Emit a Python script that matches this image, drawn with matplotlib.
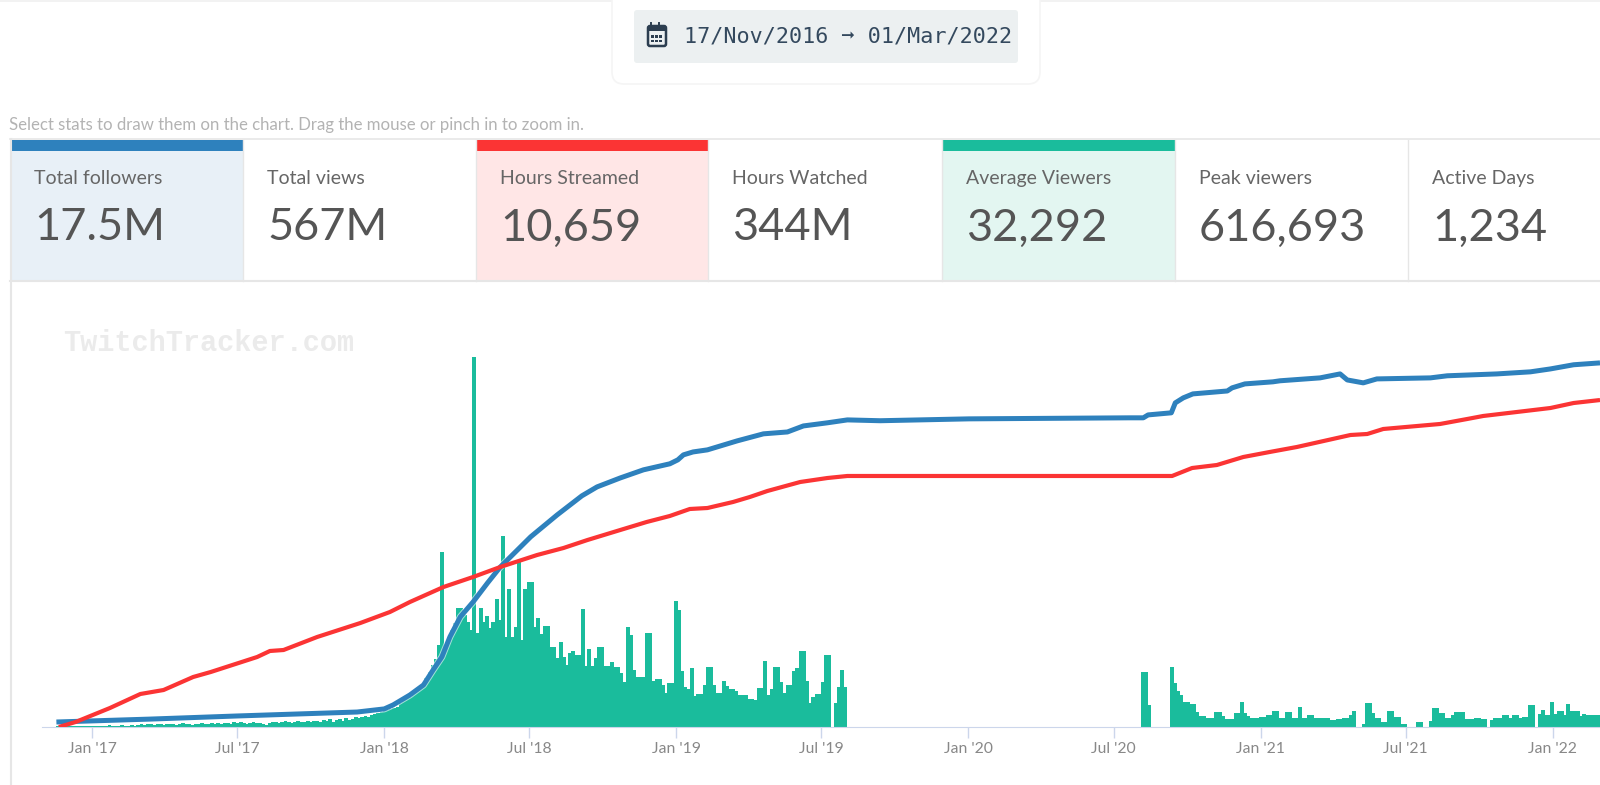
import pandas as pd
import matplotlib
matplotlib.use("Agg")
import matplotlib.pyplot as plt
import matplotlib.patheffects as pe
from matplotlib.patches import Rectangle, FancyBboxPatch

# stat cards
card_labels = ["Total followers", "Total views", "Hours Streamed", "Hours Watched",
               "Average Viewers", "Peak viewers", "Active Days"]
card_values = ["17.5M", "567M", "10,659", "344M", "32,292", "616,693", "1,234"]
date_range = "17/Nov/2016 \u279e 01/Mar/2022"
hint_text = "Select stats to draw them on the chart. Drag the mouse or pinch in to zoom in."

# average viewers (thousands), one bar every 4 days per block
viewers_a_start = "2016-11-17"
viewers_a = [1, 1, 1, 1, 1, 1, 1, 1, 1, 1, 1, 1, 1, 1, 1, 1, 2, 1, 1, 1, 2, 1, 1, 2, 1,
             2, 3, 2, 3, 3, 2, 3, 3, 2, 3, 3, 3, 2, 3, 4, 3, 3, 2, 3, 3, 4, 3, 3, 4, 3,
             4, 3, 4, 4, 3, 5, 4, 5, 4, 3, 4, 5, 4, 4, 3, 2, 4, 5, 5, 4, 5, 6, 5, 4, 5,
             6, 5, 5, 6, 5, 6, 6, 5, 7, 6, 8, 5, 7, 8, 6, 9, 7, 8, 10, 9, 10, 11, 10, 12, 13, 14]
viewers_b_start = "2017-12-26"
viewers_b = [15, 16, 17, 18, 19, 20, 24, 27, 28, 30, 34, 36, 38, 42, 49, 55, 62, 68, 82, 175,
             82, 90, 97, 104, 119, 119, 112, 105, 97, 370, 94, 119, 105, 111, 99, 105, 128, 107, 191, 90,
             138, 90, 100, 167, 87, 138, 145, 145, 100, 109, 93, 101, 101, 80, 80, 69, 85, 70, 62, 74,
             76, 72, 72, 118, 61, 78, 61, 69, 80, 80, 61, 61, 65, 60, 60, 54, 45, 100, 92, 57,
             50, 50, 50, 94, 94, 46, 48, 48, 42, 34, 44, 44, 126, 117, 56, 40, 38, 59, 31, 33,
             33, 42, 60, 60, 42, 34, 34, 46, 41, 38, 38, 36, 32, 32, 32, 28, 28, 27, 39, 39,
             66, 32, 38, 60, 60, 45, 34, 42, 42, 56, 59, 76, 76, 46, 24, 30, 33, 33, 45, 72,
             72, 0, 24, 40, 57, 40]
viewers_c_start = "2020-08-04"
viewers_c = [55, 55, 22, 0, 0, 0, 0, 0, 0, 60, 44, 36, 32, 25, 25, 23, 23, 15, 11, 11,
             9, 9, 9, 15, 15, 11, 8, 8, 8, 14, 14, 25, 14, 11, 9, 9, 9, 10, 10, 12,
             12, 16, 16, 9, 9, 15, 15, 9, 9, 20, 9, 9, 12, 12, 9, 9, 9, 9, 9, 7,
             7, 8, 8, 9, 9, 12, 16, 0, 0, 3, 24, 24, 14, 9, 9, 5, 5, 16, 16, 10,
             10, 3, 3, 0, 0, 0, 5, 5, 0, 0, 6, 19, 19, 14, 14, 9, 9, 12, 15, 15,
             15, 8, 8, 8, 9, 9, 8, 8, 0, 7, 9, 9, 9, 12, 12, 9, 12, 12, 9, 10,
             10, 22, 22, 0, 13, 17, 12, 12, 25, 13, 16, 16, 12, 23, 16, 16, 16, 11, 13, 12,
             12, 12, 12, 12]

# total followers (millions)
follower_dates = ["2016-11-17", "2017-03-14", "2017-07-01", "2017-11-28", "2018-01-01", "2018-01-12",
                  "2018-02-02", "2018-02-19", "2018-03-03", "2018-03-14", "2018-03-24", "2018-04-06",
                  "2018-04-22", "2018-05-10", "2018-05-26", "2018-07-03", "2018-08-05", "2018-09-05",
                  "2018-09-24", "2018-10-23", "2018-11-21", "2018-12-24", "2019-01-03", "2019-01-10",
                  "2019-01-22", "2019-02-09", "2019-03-18", "2019-04-20", "2019-05-20", "2019-06-09",
                  "2019-07-09", "2019-08-03", "2019-09-13", "2020-01-02", "2020-07-21", "2020-08-07",
                  "2020-08-13", "2020-09-11", "2020-09-16", "2020-09-26", "2020-10-08", "2020-11-20",
                  "2020-11-26", "2020-12-12", "2021-01-16", "2021-01-25", "2021-03-16", "2021-04-10",
                  "2021-04-19", "2021-05-09", "2021-05-26", "2021-08-01", "2021-08-22", "2021-10-23",
                  "2021-12-04", "2021-12-29", "2022-01-27", "2022-03-01"]
followers = [0.24, 0.38, 0.53, 0.72, 0.87, 1.06, 1.54, 2.02, 2.74, 3.37, 4.33, 5.29, 6.01, 6.92,
             7.69, 9.14, 10.19, 11.11, 11.54, 11.97, 12.36, 12.65, 12.84, 13.08, 13.22, 13.32,
             13.75, 14.09, 14.18, 14.47, 14.62, 14.76, 14.72, 14.81, 14.86, 14.86, 15.00, 15.10,
             15.58, 15.82, 16.01, 16.15, 16.30, 16.49, 16.59, 16.64, 16.78, 16.97, 16.68, 16.54,
             16.73, 16.78, 16.88, 16.97, 17.07, 17.21, 17.41, 17.5]

# cumulative hours streamed
hours_dates = ["2016-11-20", "2016-12-11", "2017-01-23", "2017-03-02", "2017-03-31", "2017-05-07",
               "2017-05-29", "2017-07-26", "2017-08-11", "2017-08-28", "2017-10-09", "2017-12-02",
               "2018-01-08", "2018-02-02", "2018-03-16", "2018-04-22", "2018-05-26", "2018-07-11",
               "2018-08-13", "2018-09-12", "2018-10-23", "2018-11-25", "2018-12-24", "2019-01-18",
               "2019-02-09", "2019-03-13", "2019-04-03", "2019-04-25", "2019-06-05", "2019-07-09",
               "2019-08-03", "2020-09-12", "2020-10-07", "2020-11-07", "2020-12-10", "2021-01-12",
               "2021-02-15", "2021-04-23", "2021-05-14", "2021-06-03", "2021-08-13", "2021-09-16",
               "2021-10-06", "2021-12-29", "2022-01-27", "2022-03-01"]
hours = [0, 163, 620, 1076, 1206, 1630, 1793, 2282, 2478, 2510, 2934, 3390, 3749, 4075, 4564, 4890,
         5216, 5607, 5835, 6096, 6422, 6683, 6879, 7107, 7139, 7335, 7498, 7694, 7987, 8117, 8183,
         8183, 8443, 8541, 8802, 8965, 9128, 9519, 9552, 9715, 9878, 10041, 10139, 10399, 10562, 10659]

tick_dates = ["2017-01-01", "2017-07-01", "2018-01-01", "2018-07-01", "2019-01-01", "2019-07-01",
              "2020-01-01", "2020-07-01", "2021-01-01", "2021-07-01", "2022-01-01"]
tick_labels = ["Jan '17", "Jul '17", "Jan '18", "Jul '18", "Jan '19", "Jul '19",
               "Jan '20", "Jul '20", "Jan '21", "Jul '21", "Jan '22"]

BLUE = "#2e81bd"
RED = "#fb3434"
GREEN = "#1abc9c"
W, H = 1600, 785
plt.rcParams["font.family"] = ["Lato", "DejaVu Sans"]

fig = plt.figure(figsize=(W / 100, H / 100), dpi=100, facecolor="white")

# page furniture is laid out in pixels
page = fig.add_axes([0, 0, 1, 1], zorder=0)
page.set_xlim(0, W)
page.set_ylim(H, 0)
page.axis("off")

page.add_patch(Rectangle((0, 0), W, 2, color="#f2f2f2", lw=0))
page.add_patch(FancyBboxPatch((612, -20), 428, 104, boxstyle="round,pad=0,rounding_size=12",
                              fc="white", ec="#f5f5f5", lw=1.2))
page.add_patch(FancyBboxPatch((634, 10), 384, 53, boxstyle="round,pad=0,rounding_size=3",
                              fc="#ecf0f1", ec="none"))
# calendar icon
page.add_patch(FancyBboxPatch((648, 26), 18, 20, boxstyle="round,pad=0,rounding_size=2",
                              fc="none", ec="#2c3e50", lw=1.8))
page.add_patch(Rectangle((648, 26), 18, 5, color="#2c3e50", lw=0))
for ix in range(3):
    if ix != 1:
        page.plot([651 + ix * 4] * 2, [23, 28], color="#2c3e50", lw=1.4)
    for iy in range(2):
        page.add_patch(Rectangle((651 + ix * 4.2, 35 + iy * 4.5), 2.6, 2.6, color="#2c3e50", lw=0))
page.text(684, 37, date_range, family=["DejaVu Sans Mono", "DejaVu Sans"], fontsize=15.7, color="#34495e",
          va="center", ha="left")

page.text(9, 125, hint_text, fontsize=12.1, color="#b3b3b3", va="center", ha="left")

edges = [10, 243, 476, 708, 942, 1175, 1408, 1620]
selected = {0: (BLUE, "#e8f0f7"), 2: (RED, "#ffe6e6"), 4: (GREEN, "#e3f6f1")}
page.plot([10, W], [139, 139], color="#e6e6e6", lw=1.2)
page.plot([10, W], [281, 281], color="#e6e6e6", lw=1.5)
page.plot([10.5, 10.5], [139, H], color="#e6e6e6", lw=1.5)
for i, (label, value) in enumerate(zip(card_labels, card_values)):
    x0, x1 = edges[i], edges[i + 1]
    if i in selected:
        bar_col, fill = selected[i]
        page.add_patch(Rectangle((x0, 140), x1 - x0, 141, fc=fill, ec="none"))
        page.add_patch(Rectangle((x0, 140), x1 - x0, 11, fc=bar_col, ec="none"))
    page.plot([x1, x1], [140, 281], color="#e6e6e6", lw=1)
    page.text(x0 + 24, 178.5, label, fontsize=14, color="#666666", va="center", ha="left")
    page.text(x0 + 24, 228, value, fontsize=32.5, color="#555555", va="center", ha="left")

page.text(63, 343, "TwitchTracker.com", family="Liberation Mono", fontsize=20.6,
          fontweight="bold", color="#ebebeb", va="center", ha="left")

# chart area: three hidden value axes sharing one date axis
AXIS_TOP, AXIS_BOTTOM, AXIS_LEFT = 340, 727, 42
ax = fig.add_axes([AXIS_LEFT / W, 1 - AXIS_BOTTOM / H, (W - AXIS_LEFT) / W, (AXIS_BOTTOM - AXIS_TOP) / H],
                  zorder=1)
ax.patch.set_alpha(0)
for start, vals in [(viewers_a_start, viewers_a), (viewers_b_start, viewers_b), (viewers_c_start, viewers_c)]:
    days = pd.date_range(start, periods=len(vals), freq="4D")
    ax.bar(days, vals, width=4.8, align="edge", color=GREEN, lw=0)
ax.set_ylim(0, 387)
ax.set_xlim(pd.Timestamp("2016-10-30"), pd.Timestamp("2022-03-01"))

ax_f = ax.twinx()
ax_f.plot(pd.to_datetime(follower_dates), followers, color=BLUE, lw=3.6, solid_capstyle="butt",
          path_effects=[pe.Stroke(linewidth=5, foreground="white", alpha=0.6), pe.Normal()])
ax_f.set_ylim(0, 18.6)

ax_h = ax.twinx()
ax_h.plot(pd.to_datetime(hours_dates), hours, color=RED, lw=3, solid_capstyle="butt")
ax_h.set_ylim(0, 12616)

for a in (ax_f, ax_h):
    a.axis("off")
for name in ("top", "left", "right"):
    ax.spines[name].set_visible(False)
ax.spines["bottom"].set_color("#ccd6eb")
ax.set_yticks([])
ax.set_xticks(pd.to_datetime(tick_dates))
ax.set_xticklabels(tick_labels, fontsize=11.3, color="#888888")
ax.tick_params(axis="x", length=8, width=1, color="#ccd6eb", pad=3)

fig.savefig("out.png", dpi=100)
